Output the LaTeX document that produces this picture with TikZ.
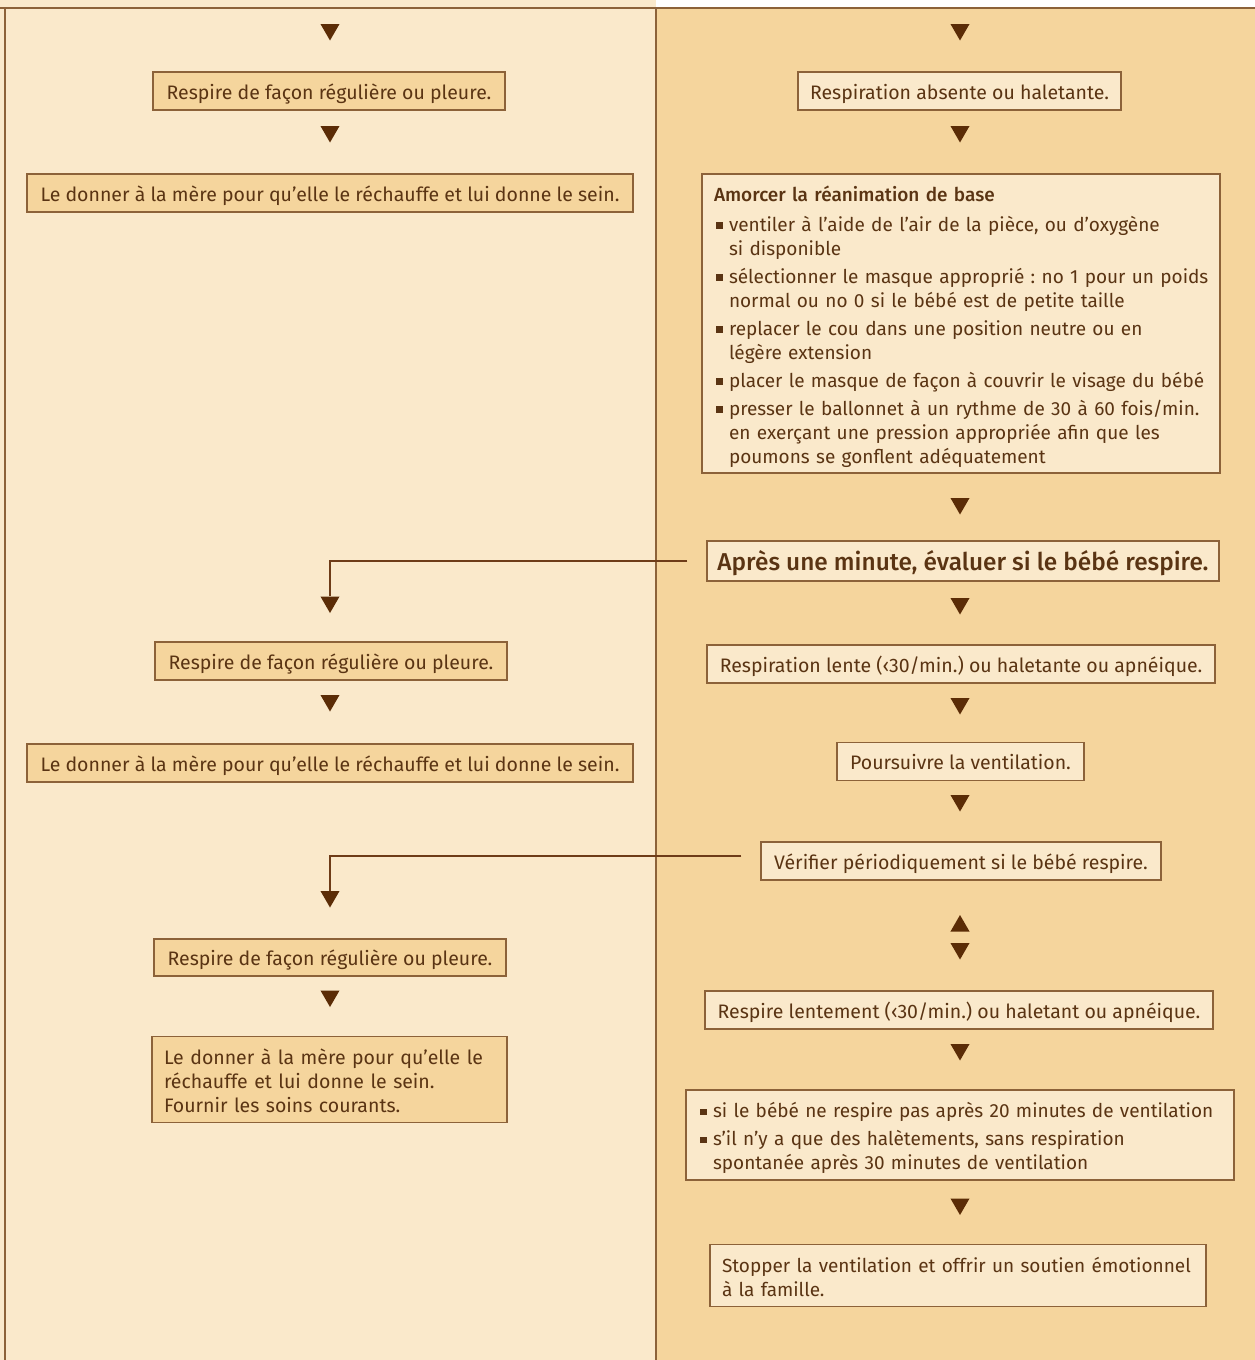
\documentclass[tikz,border=0pt]{standalone}
\usepackage{fontspec}
\setmainfont{Fira Sans}[BoldFont={Fira Sans Medium}]
\usetikzlibrary{shapes.geometric}
\frenchspacing

\definecolor{colcream}{HTML}{FAE9CB}
\definecolor{coltan}{HTML}{F5D59D}
\definecolor{colrule}{HTML}{8C6239}
\definecolor{colline}{HTML}{6E3C18}
\definecolor{colink}{HTML}{5A3413}
\definecolor{coltip}{HTML}{5B2C06}

\begin{document}
\begin{tikzpicture}[x=1pt,y=-1pt,
  frame/.style={draw=colrule,line width=1.1pt,text=colink,inner sep=0pt,
    font=\fontsize{19.5}{24}\selectfont},
  lbox/.style={frame,fill=coltan,minimum height=38pt,text height=20pt,text depth=4pt},
  rbox/.style={frame,fill=colcream,minimum height=38pt,text height=20pt,text depth=4pt},
  llist/.style={frame,fill=coltan,align=left,inner xsep=12pt},
  rlist/.style={frame,fill=colcream,align=left,inner xsep=12pt,font=\fontsize{19}{24}\selectfont},
  dn/.style={regular polygon,regular polygon sides=3,shape border rotate=180,
    fill=coltip,inner sep=0pt,minimum size=22pt},
  up/.style={dn,shape border rotate=0},
  link/.style={draw=colline,line width=1.2pt}]
  % Constants
  \pgfmathsetmacro\lx{330}
  \pgfmathsetmacro\rx{960}
  \pgfmathsetmacro\gap{19}
  \def\sq{\makebox[15pt][l]{\hspace{2pt}\rule[2.5pt]{6.5pt}{6.5pt}}}
  \def\ind{\hspace*{15pt}}
  \def\lines#1{\raisebox{-4pt}[\height][\depth]{\begin{tabular}{@{}l@{}}#1\end{tabular}}}
  % Boundary
  \path[use as bounding box] (0,0) rectangle (1255,1360);
  % Columns
  \fill[colcream] (0,0) rectangle (656,1360);
  \fill[coltan] (656,8) rectangle (1255,1360);
  \draw[colrule,line width=1.2pt] (0,8) -- (1255,8);
  \draw[colrule,line width=1.2pt] (5,8) -- (5,1360);
  \draw[colrule,line width=1.2pt] (656,8) -- (656,1360);
  % Left column
  \node[dn] (lt1) at (\lx,29.5) {};
  \node[lbox,minimum width=352pt] (l1) at (329,91) {Respire de façon régulière ou pleure.};
  \node[dn] (lt2) at (\lx,131.5) {};
  \node[lbox,minimum width=606pt] (l2) at (330,193) {Le donner à la mère pour qu’elle le réchauffe et lui donne le sein.};
  \node[dn] (lt3) at (\lx,602) {};
  \node[lbox,minimum width=352pt] (l3) at (331,661) {Respire de façon régulière ou pleure.};
  \node[dn] (lt4) at (\lx,700.5) {};
  \node[lbox,minimum width=606pt] (l4) at (330,763) {Le donner à la mère pour qu’elle le réchauffe et lui donne le sein.};
  \node[dn] (lt5) at (\lx,896.5) {};
  \node[lbox,minimum width=352pt,minimum height=37pt] (l5) at (330,957.5) {Respire de façon régulière ou pleure.};
  \node[dn] (lt6) at (\lx,996) {};
  \node[llist,text width=331pt,minimum height=86pt] (l6) at (329.5,1079.5)
    {\lines{Le donner à la mère pour qu’elle le\\réchauffe et lui donne le sein.\\Fournir les soins courants.}};
  % Right column
  \node[dn] (rt1) at (\rx,29.5) {};
  \node[rbox,minimum width=323pt] (r1) at (959.5,91) {Respiration absente ou haletante.};
  \node[dn] (rt2) at (\rx,131.5) {};
  \node[rlist,text width=494pt,minimum height=299pt] (r2) at (961,323.5)
    {\lines{\textbf{Amorcer la réanimation de base}\\[6pt]
     \sq ventiler à l’aide de l’air de la pièce, ou d’oxygène\\
     \ind si disponible\\[4pt]
     \sq sélectionner le masque approprié : no 1 pour un poids\\
     \ind normal ou no 0 si le bébé est de petite taille\\[4pt]
     \sq replacer le cou dans une position neutre ou en\\
     \ind légère extension\\[4pt]
     \sq placer le masque de façon à couvrir le visage du bébé\\[4pt]
     \sq presser le ballonnet à un rythme de 30 à 60 fois/min.\\
     \ind en exerçant une pression appropriée afin que les\\
     \ind poumons se gonflent adéquatement}};
  \node[dn] (rt3) at (\rx,503.5) {};
  \node[rbox,minimum width=512pt,minimum height=40pt,text height=23pt,text depth=5pt,
    font=\fontsize{24.4}{28}\selectfont\bfseries] (r3) at (963,561)
    {Après une minute, évaluer si le bébé respire.};
  \node[dn] (rt4) at (\rx,603.5) {};
  \node[rbox,minimum width=508pt] (r4) at (961,664) {Respiration lente (‹30/min.) ou haletante ou apnéique.};
  \node[dn] (rt5) at (\rx,703.5) {};
  \node[rbox,minimum width=247pt] (r5) at (960.5,761.5) {Poursuivre la ventilation.};
  \node[dn] (rt6) at (\rx,800.5) {};
  \node[rbox,minimum width=400pt] (r6) at (961,861) {Vérifier périodiquement si le bébé respire.};
  \node[up] (rt7) at (\rx,926) {};
  \node[dn] (rt8) at (\rx,948.5) {};
  \node[rbox,minimum width=508pt] (r7) at (959,1010) {Respire lentement (‹30/min.) ou haletant ou apnéique.};
  \node[dn] (rt9) at (\rx,1049.5) {};
  \node[rlist,text width=524pt,minimum height=90pt] (r8) at (960,1135)
    {\lines{\sq si le bébé ne respire pas après 20 minutes de ventilation\\[4pt]
     \sq s’il n’y a que des halètements, sans respiration\\
     \ind spontanée après 30 minutes de ventilation}};
  \node[dn] (rt10) at (\rx,1204) {};
  \node[rlist,text width=472pt,minimum height=62pt] (r9) at (958,1275.5)
    {\lines{Stopper la ventilation et offrir un soutien émotionnel\\à la famille.}};
  % Links to the left column
  \draw[link] ([xshift=-\gap pt]r3.west) -| (lt3.north);
  \draw[link] ([xshift=-\gap pt,yshift=5pt]r6.west) -| (lt5.north);
\end{tikzpicture}
\end{document}
